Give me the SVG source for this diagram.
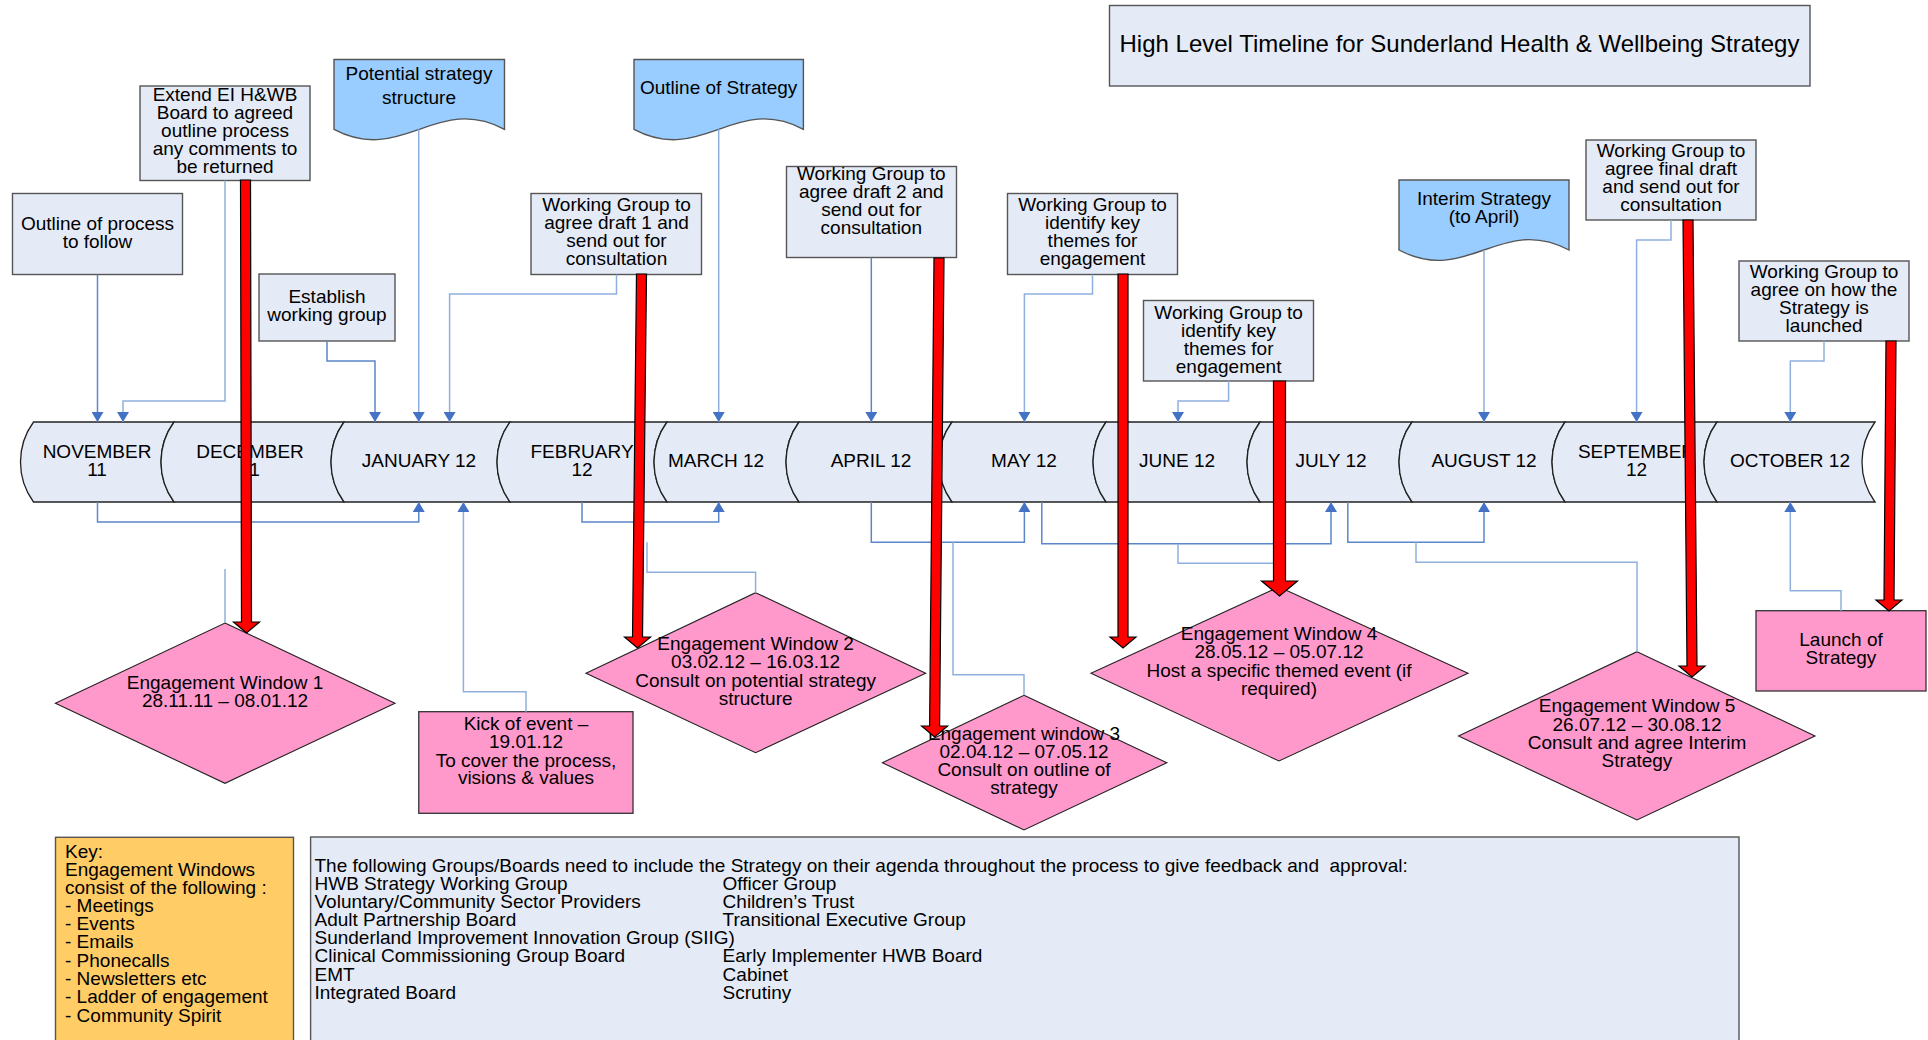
<svg xmlns="http://www.w3.org/2000/svg" width="1928" height="1040" viewBox="0 0 1928 1040">
<style>
  text { font-family: "Liberation Sans", Arial, sans-serif; fill: #000; }
  .t { font-size: 19px; text-anchor: middle; }
  .m { font-size: 19px; text-anchor: middle; }
  .l { font-size: 19px; }
  .title { font-size: 24px; text-anchor: middle; }
  .box { fill: #E4EAF6; stroke: #555; stroke-width: 1.4; }
  .doc { fill: #99CCFF; stroke: #555; stroke-width: 1.4; }
  .seg { fill: #E4EAF6; stroke: #222; stroke-width: 1.3; }
  .pink { fill: #FF99CC; stroke: #333; stroke-width: 1.3; }
  .dia { fill: #FF99CC; stroke: #222; stroke-width: 1.1; }
  .key { fill: #FFCC66; stroke: #555; stroke-width: 1.4; }
  .c { fill: none; stroke: #5B87C8; stroke-width: 1.5; }
  .cl { fill: none; stroke: #8FB0DE; stroke-width: 1.5; }
  .red { fill: #FF0000; stroke: #000; stroke-width: 1.2; }
</style>
<defs>
  <marker id="ah" viewBox="0 0 10 12" markerWidth="10" markerHeight="12" refX="10" refY="6" orient="auto" markerUnits="userSpaceOnUse">
    <path d="M0,0 L10,6 L0,12 Z" fill="#4472C4"/>
  </marker>
</defs>
<rect width="1928" height="1040" fill="#FFFFFF"/>

<g id="title">
  <rect class="box" x="1109.5" y="5.5" width="700.5" height="80.5"/>
  <text class="title" x="1459.5" y="52">High Level Timeline for Sunderland Health &amp; Wellbeing Strategy</text>
</g>

<g id="timeline">
  <g id="nov"><path class="seg" d="M33.5,422 H174 A68,68 0 0 0 174,502 H33.5 A68,68 0 0 1 33.5,422 Z"/>
    <text class="m" x="97" y="458">NOVEMBER</text><text class="m" x="97" y="476">11</text></g>
  <g id="dec"><path class="seg" d="M174,422 H344 A68,68 0 0 0 344,502 H174 A68,68 0 0 1 174,422 Z"/>
    <text class="m" x="250" y="458">DECEMBER</text><text class="m" x="250" y="476">11</text></g>
  <g id="jan"><path class="seg" d="M344,422 H510 A68,68 0 0 0 510,502 H344 A68,68 0 0 1 344,422 Z"/>
    <text class="m" x="419" y="467">JANUARY 12</text></g>
  <g id="feb"><path class="seg" d="M510,422 H667 A68,68 0 0 0 667,502 H510 A68,68 0 0 1 510,422 Z"/>
    <text class="m" x="582" y="458">FEBRUARY</text><text class="m" x="582" y="476">12</text></g>
  <g id="mar"><path class="seg" d="M667,422 H799 A68,68 0 0 0 799,502 H667 A68,68 0 0 1 667,422 Z"/>
    <text class="m" x="716" y="467">MARCH 12</text></g>
  <g id="apr"><path class="seg" d="M799,422 H952 A68,68 0 0 0 952,502 H799 A68,68 0 0 1 799,422 Z"/>
    <text class="m" x="871" y="467">APRIL 12</text></g>
  <g id="may"><path class="seg" d="M952,422 H1106 A68,68 0 0 0 1106,502 H952 A68,68 0 0 1 952,422 Z"/>
    <text class="m" x="1024" y="467">MAY 12</text></g>
  <g id="jun"><path class="seg" d="M1106,422 H1260 A68,68 0 0 0 1260,502 H1106 A68,68 0 0 1 1106,422 Z"/>
    <text class="m" x="1177" y="467">JUNE 12</text></g>
  <g id="jul"><path class="seg" d="M1260,422 H1412 A68,68 0 0 0 1412,502 H1260 A68,68 0 0 1 1260,422 Z"/>
    <text class="m" x="1331" y="467">JULY 12</text></g>
  <g id="aug"><path class="seg" d="M1412,422 H1565 A68,68 0 0 0 1565,502 H1412 A68,68 0 0 1 1412,422 Z"/>
    <text class="m" x="1484" y="467">AUGUST 12</text></g>
  <g id="sep"><path class="seg" d="M1565,422 H1717 A68,68 0 0 0 1717,502 H1565 A68,68 0 0 1 1565,422 Z"/>
    <text class="m" x="1636.5" y="458">SEPTEMBER</text><text class="m" x="1636.5" y="476">12</text></g>
  <g id="oct"><path class="seg" d="M1717,422 H1875 A68,68 0 0 0 1875,502 H1717 A68,68 0 0 1 1717,422 Z"/>
    <text class="m" x="1790" y="467">OCTOBER 12</text></g>
</g>

<g id="outline-process">
  <rect class="box" x="12.5" y="193.5" width="170" height="81"/>
  <text class="t" x="97.5" y="230">Outline of process</text>
  <text class="t" x="97.5" y="248">to follow</text>
</g>
<g id="extend-board">
  <rect class="box" x="140" y="86" width="170" height="94.5"/>
  <text class="t" x="225" y="101">Extend EI H&amp;WB</text>
  <text class="t" x="225" y="119">Board to agreed</text>
  <text class="t" x="225" y="137">outline process</text>
  <text class="t" x="225" y="155">any comments to</text>
  <text class="t" x="225" y="173">be returned</text>
</g>
<g id="potential-structure">
  <path class="doc" d="M334,59.5 H504.5 V129.3 C436.3,93.3 402.2,165.3 334,129.3 Z"/>
  <text class="t" x="419" y="80">Potential strategy</text>
  <text class="t" x="419" y="104">structure</text>
</g>
<g id="outline-strategy">
  <path class="doc" d="M634,59.5 H803.4 V129.3 C735.6,93.3 701.8,165.3 634,129.3 Z"/>
  <text class="t" x="718.7" y="94">Outline of Strategy</text>
</g>
<g id="establish-group">
  <rect class="box" x="259" y="274" width="136" height="67"/>
  <text class="t" x="327" y="302.5">Establish</text>
  <text class="t" x="327" y="320.5">working group</text>
</g>
<g id="wg-draft1">
  <rect class="box" x="531" y="193.5" width="170.5" height="81"/>
  <text class="t" x="616.5" y="210.5">Working Group to</text>
  <text class="t" x="616.5" y="228.5">agree draft 1 and</text>
  <text class="t" x="616.5" y="246.5">send out for</text>
  <text class="t" x="616.5" y="264.5">consultation</text>
</g>
<g id="wg-draft2">
  <rect class="box" x="786.5" y="166.5" width="170" height="91"/>
  <text class="t" x="871.3" y="180">Working Group to</text>
  <text class="t" x="871.3" y="198">agree draft 2 and</text>
  <text class="t" x="871.3" y="216">send out for</text>
  <text class="t" x="871.3" y="234">consultation</text>
</g>
<g id="wg-themes1">
  <rect class="box" x="1007.5" y="193.5" width="170" height="81"/>
  <text class="t" x="1092.5" y="210.5">Working Group to</text>
  <text class="t" x="1092.5" y="228.5">identify key</text>
  <text class="t" x="1092.5" y="246.5">themes for</text>
  <text class="t" x="1092.5" y="264.5">engagement</text>
</g>
<g id="wg-themes2">
  <rect class="box" x="1143.5" y="300.5" width="170" height="80.5"/>
  <text class="t" x="1228.6" y="318.5">Working Group to</text>
  <text class="t" x="1228.6" y="336.5">identify key</text>
  <text class="t" x="1228.6" y="354.5">themes for</text>
  <text class="t" x="1228.6" y="372.5">engagement</text>
</g>
<g id="interim-strategy">
  <path class="doc" d="M1399,180 H1569 V250 C1501,214 1467,286 1399,250 Z"/>
  <text class="t" x="1484" y="205">Interim Strategy</text>
  <text class="t" x="1484" y="223">(to April)</text>
</g>
<g id="wg-final-draft">
  <rect class="box" x="1586" y="140" width="170" height="80"/>
  <text class="t" x="1671" y="157">Working Group to</text>
  <text class="t" x="1671" y="175">agree final draft</text>
  <text class="t" x="1671" y="193">and send out for</text>
  <text class="t" x="1671" y="211">consultation</text>
</g>
<g id="wg-launch">
  <rect class="box" x="1739" y="261" width="170" height="80"/>
  <text class="t" x="1824" y="277.5">Working Group to</text>
  <text class="t" x="1824" y="295.5">agree on how the</text>
  <text class="t" x="1824" y="313.5">Strategy is</text>
  <text class="t" x="1824" y="331.5">launched</text>
</g>

<g id="engagement-window-1">
  <polygon class="dia" points="225,623 395,703.3 225,783.3 55.4,703.3"/>
  <text class="t" x="225" y="689.3">Engagement Window 1</text>
  <text class="t" x="225" y="707.3">28.11.11 – 08.01.12</text>
</g>
<g id="kick-off">
  <rect class="pink" x="418.75" y="711.7" width="214.25" height="101.6"/>
  <text class="t" x="526" y="730">Kick of event –</text>
  <text class="t" x="526" y="748.3">19.01.12</text>
  <text class="t" x="526" y="766.7">To cover the process,</text>
  <text class="t" x="526" y="784.3">visions &amp; values</text>
</g>
<g id="engagement-window-2">
  <polygon class="dia" points="755.6,592.7 925.7,673.3 755.6,752.7 586,673.3"/>
  <text class="t" x="755.6" y="650">Engagement Window 2</text>
  <text class="t" x="755.6" y="668">03.02.12 – 16.03.12</text>
  <text class="t" x="755.6" y="686.5">Consult on potential strategy</text>
  <text class="t" x="755.6" y="704.5">structure</text>
</g>
<g id="engagement-window-3">
  <polygon class="dia" points="1024,695.3 1166.8,762.7 1024,830 882.4,762.7"/>
  <text class="t" x="1024" y="739.5">Engagement window 3</text>
  <text class="t" x="1024" y="757.5">02.04.12 – 07.05.12</text>
  <text class="t" x="1024" y="776">Consult on outline of</text>
  <text class="t" x="1024" y="794">strategy</text>
</g>
<g id="engagement-window-4">
  <polygon class="dia" points="1279,587 1468,673.3 1279,761 1091,673.3"/>
  <text class="t" x="1279" y="640">Engagement Window 4</text>
  <text class="t" x="1279" y="658.3">28.05.12 – 05.07.12</text>
  <text class="t" x="1279" y="676.7">Host a specific themed event (if</text>
  <text class="t" x="1279" y="694.5">required)</text>
</g>
<g id="engagement-window-5">
  <polygon class="dia" points="1637,651.7 1815,736 1637,820 1458.5,736"/>
  <text class="t" x="1637" y="712.3">Engagement Window 5</text>
  <text class="t" x="1637" y="730.7">26.07.12 – 30.08.12</text>
  <text class="t" x="1637" y="749">Consult and agree Interim</text>
  <text class="t" x="1637" y="766.7">Strategy</text>
</g>
<g id="launch">
  <rect class="pink" x="1756" y="610.7" width="170" height="80.3"/>
  <text class="t" x="1841" y="645.7">Launch of</text>
  <text class="t" x="1841" y="664">Strategy</text>
</g>

<g id="key">
  <rect class="key" x="55.5" y="837.3" width="238" height="230"/>
  <text class="l" x="65" y="857.7">Key:</text>
  <text class="l" x="65" y="876">Engagement Windows</text>
  <text class="l" x="65" y="894">consist of the following :</text>
  <text class="l" x="65" y="912">- Meetings</text>
  <text class="l" x="65" y="930">- Events</text>
  <text class="l" x="65" y="948">- Emails</text>
  <text class="l" x="65" y="966.7">- Phonecalls</text>
  <text class="l" x="65" y="985">- Newsletters etc</text>
  <text class="l" x="65" y="1003.3">- Ladder of engagement</text>
  <text class="l" x="65" y="1021.7">- Community Spirit</text>
</g>
<g id="groups-boards">
  <rect class="box" x="310.6" y="837" width="1428.4" height="230"/>
  <text class="l" x="314.5" y="871.7" xml:space="preserve">The following Groups/Boards need to include the Strategy on their agenda throughout the process to give feedback and  approval:</text>
  <text class="l" x="314.5" y="889.7">HWB Strategy Working Group</text>
  <text class="l" x="314.5" y="908">Voluntary/Community Sector Providers</text>
  <text class="l" x="314.5" y="926">Adult Partnership Board</text>
  <text class="l" x="314.5" y="944">Sunderland Improvement Innovation Group (SIIG)</text>
  <text class="l" x="314.5" y="962.3">Clinical Commissioning Group Board</text>
  <text class="l" x="314.5" y="980.7">EMT</text>
  <text class="l" x="314.5" y="998.7">Integrated Board</text>
  <text class="l" x="722.6" y="889.7">Officer Group</text>
  <text class="l" x="722.6" y="908">Children’s Trust</text>
  <text class="l" x="722.6" y="926">Transitional Executive Group</text>
  <text class="l" x="722.6" y="962.3">Early Implementer HWB Board</text>
  <text class="l" x="722.6" y="980.7">Cabinet</text>
  <text class="l" x="722.6" y="998.7">Scrutiny</text>
</g>

<g id="connectors">
  <polyline class="c" points="97.5,274.5 97.5,422" marker-end="url(#ah)"/>
  <polyline class="cl" points="225,180.5 225,401 123,401 123,422" marker-end="url(#ah)"/>
  <polyline class="cl" points="418.75,129.3 418.75,422" marker-end="url(#ah)"/>
  <polyline class="c" points="327,341 327,361 375,361 375,422" marker-end="url(#ah)"/>
  <polyline class="cl" points="616.5,274.5 616.5,294 449.6,294 449.6,422" marker-end="url(#ah)"/>
  <polyline class="cl" points="718.7,129.3 718.7,422" marker-end="url(#ah)"/>
  <polyline class="c" points="871.3,257.5 871.3,422" marker-end="url(#ah)"/>
  <polyline class="cl" points="1092.5,274.5 1092.5,294 1024.4,294 1024.4,422" marker-end="url(#ah)"/>
  <polyline class="cl" points="1228.6,381 1228.6,401 1178,401 1178,422" marker-end="url(#ah)"/>
  <polyline class="cl" points="1484,250 1484,422" marker-end="url(#ah)"/>
  <polyline class="cl" points="1671,220 1671,240 1636.6,240 1636.6,422" marker-end="url(#ah)"/>
  <polyline class="cl" points="1824,341 1824,361 1790.3,361 1790.3,422" marker-end="url(#ah)"/>

  <polyline class="c" points="97.5,502 97.5,522 418.75,522 418.75,502" marker-end="url(#ah)"/>
  <polyline class="cl" points="526,711.7 526,691.7 463.4,691.7 463.4,502" marker-end="url(#ah)"/>
  <polyline class="c" points="582,502 582,522 718.7,522 718.7,502" marker-end="url(#ah)"/>
  <polyline class="cl" points="755.6,592.7 755.6,572.3 647,572.3 647,542.3"/>
  <polyline class="cl" points="225,569 225,623"/>
  <polyline class="c" points="871.3,502 871.3,542.3 1024.4,542.3 1024.4,502" marker-end="url(#ah)"/>
  <polyline class="cl" points="1024,695.3 1024,674.7 953,674.7 953,542.3"/>
  <polyline class="c" points="1041.8,502 1041.8,543.7 1331,543.7 1331,502" marker-end="url(#ah)"/>
  <polyline class="cl" points="1178,543.7 1178,563.3 1279,563.3 1279,587"/>
  <polyline class="c" points="1347.8,502 1347.8,542.3 1484,542.3 1484,502" marker-end="url(#ah)"/>
  <polyline class="cl" points="1637,651.7 1637,562.3 1416,562.3 1416,542.3"/>
  <polyline class="cl" points="1841,610.7 1841,590.7 1790.3,590.7 1790.3,502" marker-end="url(#ah)"/>
</g>

<g id="milestone-arrows">
  <polygon class="red" points="240.5,180 250.5,180 251.5,622 259.5,622 246.5,633 233.5,622 241.5,622"/>
  <polygon class="red" points="636.5,274 646.5,274 642.5,637 650.5,637 637.5,648 624.5,637 632.5,637"/>
  <polygon class="red" points="934,258 944,258 939.6,726 947.6,726 934.6,737 921.6,726 929.6,726"/>
  <polygon class="red" points="1118,274 1128,274 1128,637 1136,637 1123,648 1110,637 1118,637"/>
  <polygon class="red" points="1273.5,381 1285.5,381 1285.5,581 1297.5,581 1279.5,596 1261.5,581 1273.5,581"/>
  <polygon class="red" points="1683,220 1693,220 1697,666 1705,666 1692,677 1679,666 1687,666"/>
  <polygon class="red" points="1886,341 1896,341 1894,600 1902,600 1889,611 1876,600 1884,600"/>
</g>
</svg>
